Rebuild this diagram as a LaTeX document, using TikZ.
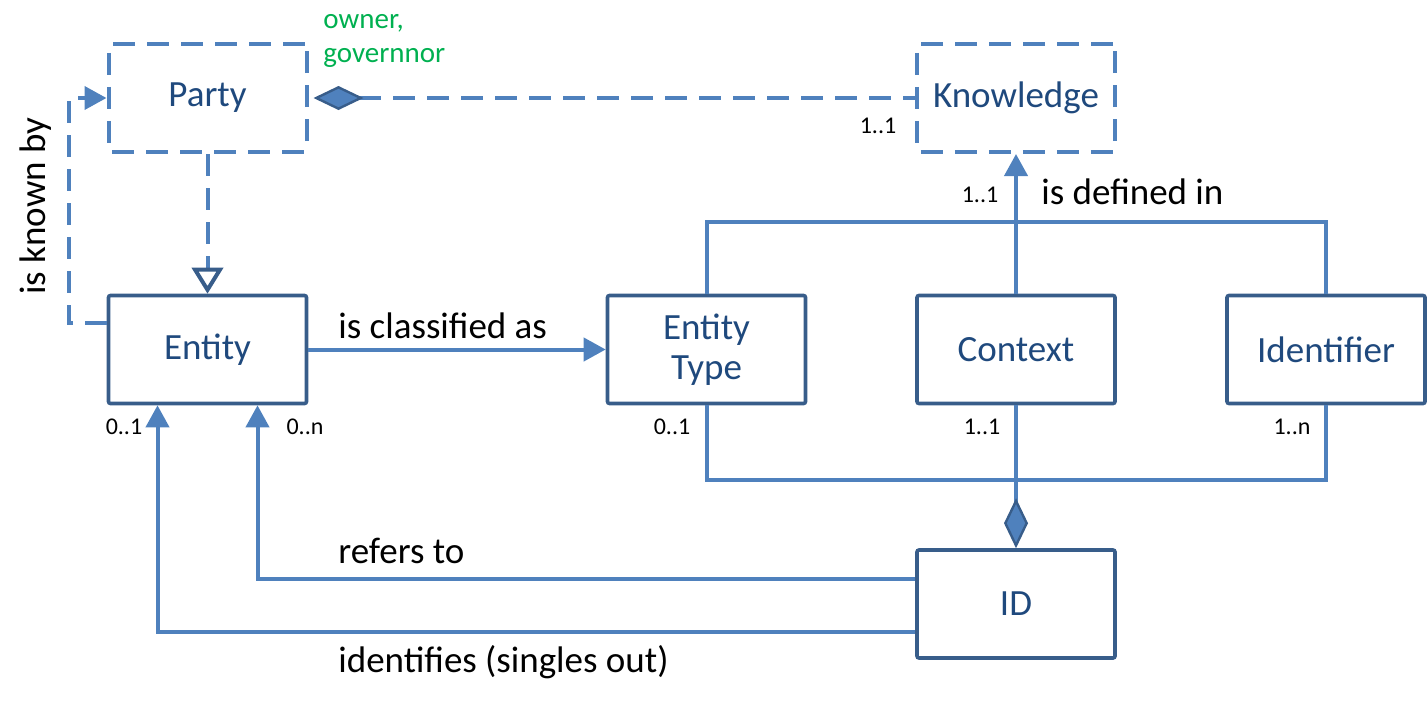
\documentclass[tikz,border=0pt]{standalone}
\usepackage{fontspec}
\setmainfont{Carlito}
\usetikzlibrary{arrows.meta}

\definecolor{lineblue}{RGB}{79,129,189}
\definecolor{boxblue}{RGB}{56,93,138}
\definecolor{textblue}{RGB}{31,73,125}
\definecolor{notegreen}{RGB}{0,176,80}

\tikzset{
    filled/.tip={Triangle[length=11pt, width=11.5pt]},
    gen/.tip={Triangle[open, length=13pt, width=15.5pt, color=boxblue, line width=2pt]},
    agg/.tip={Diamond[length=25pt, width=12pt, fill=lineblue, color=boxblue, line width=1.2pt]},
}

\begin{document}
\begin{tikzpicture}[x=0.5pt, y=-0.5pt,
    cls/.style={draw=boxblue, line width=1.8pt, rounded corners=1pt, minimum width=99pt, minimum height=54pt,
        text=textblue, font=\fontsize{18.5}{22}\selectfont, align=center, inner sep=0pt},
    abstr/.style={cls, draw=lineblue, line width=2pt, dash pattern=on 11pt off 6pt},
    conn/.style={draw=lineblue, line width=2pt},
    dconn/.style={conn, dash pattern=on 11pt off 6pt},
    lbl/.style={font=\fontsize{18.5}{22}\selectfont, inner sep=0pt},
    mult/.style={font=\fontsize{12}{14}\selectfont, inner sep=0pt}]

    \useasboundingbox (0,0) rectangle (1427,707);

    % classes
    \node[abstr] (party) at (207.5,98) {Party};
    \node[abstr] (knowledge) at (1016,98) {Knowledge};
    \node[cls] (entity) at (207.5,349.5) {Entity};
    \node[cls] (etype) at (706.5,349.5) {Entity\\[-2pt]Type};
    \node[cls] (context) at (1016,349.5) {Context};
    \node[cls] (ident) at (1326,349.5) {Identifier};
    \node[cls] (idnode) at (1016,604) {ID};

    % party side
    \draw[dconn, agg-] ([xshift=2.5pt]party.east) -- (knowledge.west);
    \node[font=\fontsize{14.5}{17}\selectfont, text=notegreen, align=left, anchor=north west, inner sep=0pt] (role) at (323,14) {owner,\\governnor};
    \node[mult] (mknow) at (878,126) {1..1};
    \draw[dconn, -gen] (party) -- (entity);
    \draw[dconn, -filled] ([yshift=13.5pt]entity.west) -- ++(-38,0) |- (party.west);
    \node[lbl, rotate=90] (known) at (36,206) {is known by};

    % classification
    \draw[conn, -filled] (entity) -- (etype);
    \node[lbl, anchor=south west] (classified) at (338,339) {is classified as};

    % definition
    \draw[conn, -filled] (context) -- (knowledge);
    \draw[conn] (etype.north) -- ++(0,-72) -| (ident.north);
    \node[lbl, anchor=west] (defined) at (1041,192) {is defined in};
    \node[mult] (mdef) at (980,195) {1..1};

    % composition of ID
    \draw[conn] (etype.south) -- ++(0,75) -| (ident.south);
    \draw[conn, agg-] (idnode.north) -- (context.south);
    \node[mult] (mtype) at (672,427) {0..1};
    \node[mult] (mctx) at (982,427) {1..1};
    \node[mult] (mid) at (1292,427) {1..n};

    % references back to entity
    \draw[conn, -filled] ([yshift=12.5pt]idnode.west) -| ([xshift=25pt]entity.south);
    \draw[conn, -filled] ([yshift=-14pt]idnode.west) -| ([xshift=-25pt]entity.south);
    \node[lbl, anchor=west] (refers) at (338,551) {refers to};
    \node[lbl, anchor=west] (identifies) at (338,662) {identifies (singles out)};
    \node[mult] (mone) at (124,427) {0..1};
    \node[mult] (many) at (305,427) {0..n};
\end{tikzpicture}
\end{document}
